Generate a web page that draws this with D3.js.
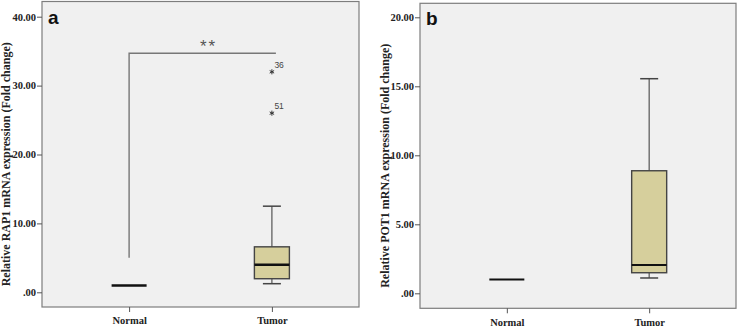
<!DOCTYPE html>
<html lang="en">
<head>
<meta charset="UTF-8">
<title>RAP1 / POT1 boxplots</title>
<script src="https://d3js.org/d3.v7.min.js"></script>
<style>
    body { margin: 0; background: #fff; }
    svg { display: block; }
</style>
</head>
<body>
<svg id="chart" width="738" height="328"></svg>
<script>
// data
const categories = ["Normal", "Tumor"];
// [lower whisker, Q1, median, Q3, upper whisker]
const rap1Stats = [[1.0, 1.0, 1.0, 1.0, 1.0], [1.25, 1.97, 4.0, 6.6, 12.5]];
const rap1OutlierValues = [32.0, 26.0];
const rap1OutlierLabels = ["36", "51"];
const rap1Ticks = [0, 10, 20, 30, 40];
const pot1Stats = [[1.0, 1.0, 1.0, 1.0, 1.0], [1.11, 1.49, 2.05, 8.88, 15.55]];
const pot1Ticks = [0, 5, 10, 15, 20];
const sigBracket = [34.7, 5.0]; // top, bottom of the Normal leg

const SERIF = "Liberation Serif";
const SANS = "Liberation Sans";

const svg = d3.select("#chart");
const fmt = d => d === 0 ? ".00" : d3.format(".2f")(d);

function panel(opt) {
    const g = svg.append("g");
    const { left, right, top, bottom } = opt.frame;

    g.append("rect")
        .attr("x", left).attr("y", top)
        .attr("width", right - left).attr("height", bottom - top)
        .attr("fill", "#f0f0f0")
        .attr("stroke", "#7d7d7d")
        .attr("stroke-width", 1.2);

    const x = d3.scalePoint()
        .domain(categories)
        .range([left, right])
        .padding(0.61);

    const y = d3.scaleLinear()
        .domain([0, opt.max])
        .range(opt.yRange);

    // y axis
    const ya = g.append("g")
        .attr("transform", `translate(${left},0)`)
        .call(d3.axisLeft(y).tickValues(opt.ticks).tickFormat(fmt).tickSize(5).tickPadding(1))
        .attr("font-family", SERIF)
        .attr("font-size", 10.5)
        .attr("font-weight", "bold");
    ya.select(".domain").remove();
    ya.selectAll(".tick line").attr("stroke", "#555");
    ya.selectAll(".tick text").attr("fill", "#222");

    // x axis
    const xa = g.append("g")
        .attr("transform", `translate(0,${bottom})`)
        .call(d3.axisBottom(x).tickSize(5).tickPadding(5))
        .attr("font-family", SERIF)
        .attr("font-size", 10.5)
        .attr("font-weight", "bold");
    xa.select(".domain").remove();
    xa.selectAll(".tick line").attr("stroke", "#555");
    xa.selectAll(".tick text").attr("fill", "#222");

    // y title
    g.append("text")
        .attr("transform", `translate(${opt.titleX},${(top + bottom) / 2 + 10}) rotate(-90)`)
        .attr("text-anchor", "middle")
        .attr("font-family", SERIF)
        .attr("font-weight", "bold")
        .attr("font-size", 12)
        .attr("fill", "#222")
        .text(opt.title);

    // panel letter
    g.append("text")
        .attr("x", left + 6).attr("y", top + 22)
        .attr("font-family", SANS)
        .attr("font-weight", "bold")
        .attr("font-size", 19)
        .attr("fill", "#111")
        .text(opt.letter);

    const boxW = 35;
    opt.stats.forEach((s, i) => {
        const cx = x(categories[i]);
        const [lo, q1, med, q3, hi] = s;
        if (q3 > q1) {
            g.append("line")
                .attr("x1", cx).attr("x2", cx)
                .attr("y1", y(q3)).attr("y2", y(hi))
                .attr("stroke", "#555").attr("stroke-width", 1.2);
            g.append("line")
                .attr("x1", cx).attr("x2", cx)
                .attr("y1", y(q1)).attr("y2", y(lo))
                .attr("stroke", "#555").attr("stroke-width", 1.2);
            [lo, hi].forEach(v => {
                g.append("line")
                    .attr("x1", cx - 9).attr("x2", cx + 9)
                    .attr("y1", y(v)).attr("y2", y(v))
                    .attr("stroke", "#444").attr("stroke-width", 1.5);
            });
            g.append("rect")
                .attr("x", cx - boxW / 2).attr("y", y(q3))
                .attr("width", boxW).attr("height", y(q1) - y(q3))
                .attr("fill", "#d6cf9c")
                .attr("stroke", "#444").attr("stroke-width", 1.4);
        }
        g.append("line")
            .attr("x1", cx - boxW / 2).attr("x2", cx + boxW / 2)
            .attr("y1", y(med)).attr("y2", y(med))
            .attr("stroke", "#111").attr("stroke-width", opt.medW);
    });

    return { g, x, y };
}

// panel a
const a = panel({
    frame: { left: 42, right: 359, top: 1.5, bottom: 307 },
    max: 40, yRange: [292.3, 16.7], ticks: rap1Ticks,
    stats: rap1Stats, letter: "a", titleX: 10, medW: 2.5,
    title: "Relative RAP1 mRNA expression (Fold change)"
});

// significance bracket
const xn = a.x("Normal"), xt = a.x("Tumor");
a.g.append("path")
    .attr("d", `M${xn},${a.y(sigBracket[1])}V${a.y(sigBracket[0])}H${xt + 4}`)
    .attr("fill", "none")
    .attr("stroke", "#777").attr("stroke-width", 1.4);
a.g.append("text")
    .attr("x", (xn + xt) / 2 + 8).attr("y", a.y(sigBracket[0]) - 1)
    .attr("text-anchor", "middle")
    .attr("font-family", SANS)
    .attr("font-size", 17)
    .attr("letter-spacing", 2)
    .attr("fill", "#555")
    .text("**");

// outliers
const star = d3.symbol().type(d3.symbolAsterisk).size(18);
rap1OutlierValues.forEach((v, i) => {
    a.g.append("path")
        .attr("transform", `translate(${xt},${a.y(v)})`)
        .attr("d", star())
        .attr("fill", "none")
        .attr("stroke", "#333").attr("stroke-width", 1);
    a.g.append("text")
        .attr("x", xt + 2.5).attr("y", a.y(v) - 4)
        .attr("font-family", SANS)
        .attr("font-size", 8.5)
        .attr("fill", "#444")
        .text(rap1OutlierLabels[i]);
});

// panel b
panel({
    frame: { left: 420, right: 736, top: 3.3, bottom: 308.3 },
    max: 20, yRange: [293.3, 17.3], ticks: pot1Ticks,
    stats: pot1Stats, letter: "b", titleX: 389, medW: 1.8,
    title: "Relative POT1 mRNA expression (Fold change)"
});
</script>
</body>
</html>
